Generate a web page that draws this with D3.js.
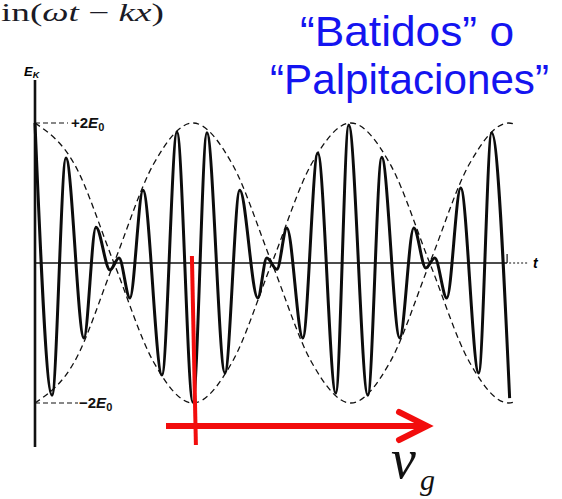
<!DOCTYPE html>
<html>
<head>
<meta charset="utf-8">
<script src="https://cdn.jsdelivr.net/npm/d3@7"></script>
<style>
  html, body { margin: 0; padding: 0; background: #fff; }
  svg { display: block; }
</style>
</head>
<body>
<div id="chart"></div>
<script>
// wave extrema (t in half beats, E in units of E0)
const waveT = [0, 0.108, 0.196, 0.310, 0.386, 0.475, 0.532, 0.601, 0.684, 0.804, 0.899,
  1.0, 1.089, 1.203, 1.297, 1.411, 1.468, 1.532, 1.595, 1.696, 1.791, 1.905, 1.987,
  2.108, 2.196, 2.310, 2.399, 2.475, 2.532, 2.608, 2.696, 2.810, 2.892, 3.006]
const waveE = [2.0, -1.89, 1.50, -1.07, 0.51, -0.10, 0.07, -0.50, 1.04, -1.60, 1.87,
  -1.99, 1.86, -1.57, 1.04, -0.50, 0.07, -0.09, 0.50, -1.07, 1.57, -1.86, 1.97,
  -1.89, 1.51, -1.07, 0.50, -0.07, 0.07, -0.50, 1.07, -1.57, 1.86, -1.93]
// dashed envelope, read every eighth of a beat
const envT = [0, 0.25, 0.5, 0.75, 1, 1.25, 1.5, 1.75, 2, 2.25, 2.5, 2.75, 3, 3.04]
const envE = [2, 1.41, 0, -1.41, -2, -1.41, 0, 1.41, 2, 1.41, 0, -1.41, -2, -1.98]
const levelSigns = ["+2", "\u22122"]
const levelValues = [2, -2]

const width = 562, height = 499

const svg = d3.select("#chart")
  .append("svg")
  .attr("width", width)
  .attr("height", height)

const x = d3.scaleLinear().domain([0, 3.04]).range([35, 515])
const y = d3.scaleLinear().domain([-2, 2]).range([403, 123])

// header text
svg.append("text")
  .attr("x", 1).attr("y", 21)
  .attr("font-family", "Liberation Serif, Times New Roman, serif")
  .attr("font-size", 25)
  .attr("fill", "#1b1b26")
  .attr("textLength", 163)
  .attr("lengthAdjust", "spacingAndGlyphs")
  .call(t => {
    t.append("tspan").text("in(")
    t.append("tspan").attr("font-style", "italic").text("\u03c9t")
    t.append("tspan").text(" \u2212 ")
    t.append("tspan").attr("font-style", "italic").text("kx")
    t.append("tspan").text(")")
  })

const title = [
  {text: "\u201cBatidos\u201d o", x: 300, y: 46, len: 214},
  {text: "\u201cPalpitaciones\u201d", x: 270, y: 94, len: 279}
]
svg.selectAll(".title")
  .data(title)
  .enter()
  .append("text")
  .attr("class", "title")
  .attr("x", d => d.x)
  .attr("y", d => d.y)
  .attr("textLength", d => d.len)
  .attr("lengthAdjust", "spacingAndGlyphs")
  .attr("font-family", "Comic Sans MS, Liberation Sans, sans-serif")
  .attr("font-size", 42)
  .attr("fill", "#1414f0")
  .text(d => d.text)

// envelopes
const envLine = d3.line()
  .x(d => x(d[0]))
  .y(d => y(d[1]))
  .curve(d3.curveMonotoneX)

;[1, -1].forEach(s => {
  svg.append("path")
    .datum(envT.map((t, i) => [t, s * envE[i]]))
    .attr("d", envLine)
    .attr("fill", "none")
    .attr("stroke", "#111")
    .attr("stroke-width", 1.3)
    .attr("stroke-dasharray", "6,4")
})

// axes
svg.append("line")
  .attr("x1", x(0)).attr("x2", x(0))
  .attr("y1", 80).attr("y2", 447)
  .attr("stroke", "#111").attr("stroke-width", 2.6)

svg.append("line")
  .attr("x1", x(0)).attr("x2", x(2.99))
  .attr("y1", y(0)).attr("y2", y(0))
  .attr("stroke", "#111").attr("stroke-width", 1.6)

svg.append("line")
  .attr("x1", x(2.99)).attr("x2", x(2.99))
  .attr("y1", y(0)).attr("y2", y(0) - 9)
  .attr("stroke", "#111").attr("stroke-width", 1.2)

svg.append("line")
  .attr("x1", x(2.99) + 2).attr("x2", 528)
  .attr("y1", y(0)).attr("y2", y(0))
  .attr("stroke", "#111").attr("stroke-width", 1.2)
  .attr("stroke-dasharray", "2,2")

svg.append("text")
  .attr("x", 533).attr("y", y(0) + 5)
  .attr("font-family", "Liberation Sans, Arial, sans-serif")
  .attr("font-style", "italic").attr("font-weight", "bold")
  .attr("font-size", 14)
  .text("t")

svg.append("text")
  .attr("x", 24).attr("y", 76)
  .attr("font-family", "Liberation Sans, Arial, sans-serif")
  .attr("font-style", "italic").attr("font-weight", "bold")
  .attr("font-size", 13)
  .call(t => {
    t.append("tspan").text("E")
    t.append("tspan").attr("font-size", 9).attr("dy", 2).text("K")
  })

// +2E0 / -2E0 levels
const levels = svg.selectAll(".level")
  .data(levelValues)
  .enter()
  .append("g")
  .attr("class", "level")

levels.append("line")
  .attr("x1", x(0))
  .attr("x2", (d, i) => i === 0 ? 68 : 78)
  .attr("y1", d => y(d)).attr("y2", d => y(d))
  .attr("stroke", "#111").attr("stroke-width", 1.2)
  .attr("stroke-dasharray", "5,3")

levels.append("text")
  .attr("x", (d, i) => i === 0 ? 71 : 79)
  .attr("y", d => y(d) + 5)
  .attr("font-family", "Liberation Sans, Arial, sans-serif")
  .attr("font-weight", "bold")
  .attr("font-size", 15)
  .attr("fill", "#111")
  .each(function(d, i) {
    const t = d3.select(this)
    t.append("tspan").text(levelSigns[i])
    t.append("tspan").attr("font-style", "italic").text("E")
    t.append("tspan").attr("font-size", 11).attr("dy", 3).text("0")
  })

// wave
const waveLine = d3.line()
  .x(d => x(d[0]))
  .y(d => y(d[1]))
  .curve(d3.curveMonotoneX)

svg.append("path")
  .datum(waveT.map((t, i) => [t, waveE[i]]))
  .attr("d", waveLine)
  .attr("fill", "none")
  .attr("stroke", "#0c0c0c")
  .attr("stroke-width", 3)
  .attr("stroke-linejoin", "round")

// group velocity marker
const red = "#f20d0d"
svg.append("line")
  .attr("x1", x(1) - 1).attr("y1", 256)
  .attr("x2", x(1) + 3).attr("y2", 445)
  .attr("stroke", red).attr("stroke-width", 4)

svg.append("line")
  .attr("x1", 166).attr("y1", 426)
  .attr("x2", 424).attr("y2", 426)
  .attr("stroke", red).attr("stroke-width", 6)

svg.append("path")
  .attr("d", "M399,412 L427,426 L399,440")
  .attr("fill", "none")
  .attr("stroke", red).attr("stroke-width", 6)
  .attr("stroke-linecap", "round")

svg.append("text")
  .attr("x", 391).attr("y", 478)
  .attr("font-family", "Liberation Serif, Times New Roman, serif")
  .attr("font-style", "italic")
  .attr("font-size", 56)
  .attr("fill", "#111")
  .text("v")

svg.append("text")
  .attr("x", 420).attr("y", 490)
  .attr("font-family", "Liberation Serif, Times New Roman, serif")
  .attr("font-style", "italic")
  .attr("font-size", 30)
  .attr("fill", "#111")
  .text("g")
</script>
</body>
</html>
